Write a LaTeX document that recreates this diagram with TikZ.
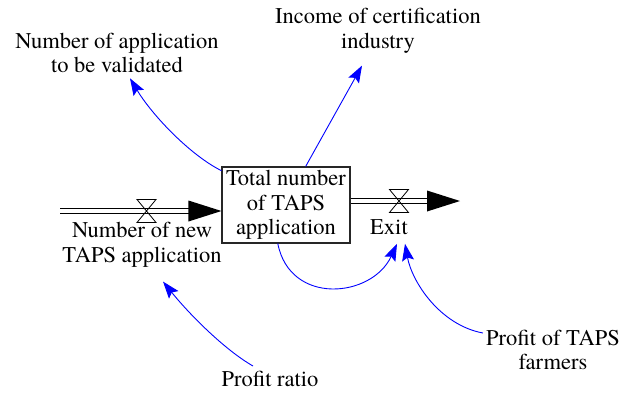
\documentclass[tikz,border=0pt]{standalone}
\usepackage{fontspec}
\IfFontExistsTF{texgyretermes-regular.otf}
  {\newfontfamily\labelfont{texgyretermes-regular.otf}}
  {\newfontfamily\labelfont{Latin Modern Roman}}
\usetikzlibrary{arrows.meta,calc}

\tikzset{
  lbl/.style={align=center, inner sep=0pt, font=\labelfont\fontsize{22.5}{24.5}\selectfont},
  stockbox/.style={lbl, draw=black!85, line width=1.1pt, minimum width=128pt, minimum height=76pt},
  pipe/.style={draw=black, line width=0.9pt, double=white, double distance=4.6pt},
  conn/.style={draw=blue, line width=0.9pt, -{Stealth[length=17pt,width=12pt,inset=3pt]}},
  valve/.pic={
    \draw[line width=0.8pt] (0,0) -- (-9.5,-11.5) -- (9.5,-11.5) -- cycle;
    \draw[line width=0.8pt] (0,0) -- (-9.5,11.5) -- (9.5,11.5) -- cycle;
  }
}

\begin{document}
\begin{tikzpicture}[x=1pt, y=-1pt]
\useasboundingbox (0,0) rectangle (625,392);

% stock
\node[stockbox] (stock) at (286,205) {Total number\\of TAPS\\application};

% auxiliary variables and flow labels
\node[lbl] (nval)   at (117,53) {Number of application\\to be validated};
\node[lbl] (income) at (378,31) {Income of certification\\industry};
\node[lbl] (nnew)   at (142,245) {Number of new\\TAPS application};
\node[lbl] (exitl)  at (389,227) {Exit};
\node[lbl] (pratio) at (270,379) {Profit ratio};
\node[lbl] (pfarm)  at (553,350) {Profit of TAPS\\farmers};

% inflow pipe
\coordinate (src)   at (60,211);
\coordinate (vin)   at (146.5,211);
\coordinate (inEnd) at (stock.west |- src);
\draw[pipe] (src) -- ($(inEnd)+(-31,0)$);
\fill[black] (inEnd) -- ($(inEnd)+(-33,-10.5)$) -- ($(inEnd)+(-33,10.5)$) -- cycle;
\pic at (vin) {valve};

% outflow pipe
\coordinate (outStart) at (stock.east |- 0,201);
\coordinate (vout)     at (399,201);
\coordinate (sink)     at (460,201);
\draw[pipe] (outStart) -- ($(sink)+(-31,0)$);
\fill[black] (sink) -- ($(sink)+(-33,-10.5)$) -- ($(sink)+(-33,10.5)$) -- cycle;
\pic at (vout) {valve};

% causal links
\draw[conn] (stock.152) .. controls (190,155) and (152,115) .. ($(nval.south)+(13,5)$);
\draw[conn] (stock.63) -- ($(income.south)+(-16,12)$);
\draw[conn] (stock.-102) .. controls (290,306) and (372,298) .. ($(exitl.south)+(8,9)$);
\draw[conn] ($(pfarm.west)+(-3,-17)$) .. controls (440,325) and (412,282) .. ($(exitl.south)+(16,9)$);
\draw[conn] ($(pratio.north)+(-17,-5)$) .. controls (225,350) and (190,315) .. ($(nnew.south)+(21,14)$);
\end{tikzpicture}
\end{document}
